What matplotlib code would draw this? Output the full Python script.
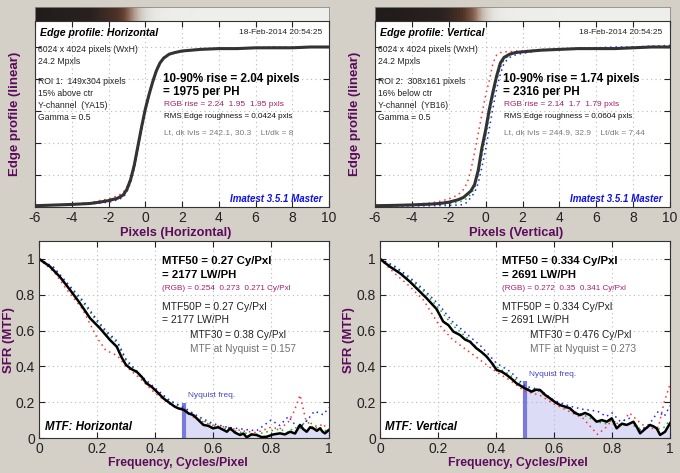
import numpy as np
import matplotlib
matplotlib.use("Agg")
import matplotlib.pyplot as plt
from matplotlib.colors import LinearSegmentedColormap, PowerNorm

plt.rcParams["font.family"] = ["Liberation Sans", "DejaVu Sans"]
plt.rcParams["axes.unicode_minus"] = False

# ---- edge profiles (normalized, 0..1) ----
edge_x = [-6, -5, -4, -3, -2.5, -2, -1.5, -1.2, -1.0, -0.8, -0.6, -0.4, -0.2, 0,
          0.2, 0.4, 0.6, 0.8, 1.0, 1.3, 1.6, 2, 2.5, 3, 4, 5, 6, 7, 8, 9, 10]

edge_h_y = [0.008, 0.012, 0.016, 0.022, 0.03, 0.04, 0.055, 0.075, 0.11, 0.17, 0.26, 0.38,
            0.50, 0.61, 0.70, 0.78, 0.85, 0.90, 0.93, 0.955, 0.965, 0.975, 0.98, 0.985,
            0.99, 0.99, 0.995, 0.995, 0.995, 1.0, 1.0]
edge_h_r = [0.008, 0.012, 0.018, 0.026, 0.04, 0.05, 0.07, 0.09, 0.125, 0.18, 0.27, 0.39,
            0.51, 0.62, 0.71, 0.79, 0.86, 0.905, 0.93, 0.955, 0.965, 0.97, 0.98, 0.985,
            0.99, 0.995, 0.99, 1.0, 0.995, 1.0, 1.0]
edge_h_g = [0.008, 0.012, 0.016, 0.021, 0.028, 0.035, 0.05, 0.07, 0.10, 0.16, 0.25, 0.37,
            0.49, 0.60, 0.70, 0.78, 0.85, 0.90, 0.93, 0.955, 0.965, 0.975, 0.98, 0.985,
            0.99, 0.99, 0.995, 0.995, 1.0, 1.0, 1.0]
edge_h_b = [0.008, 0.011, 0.015, 0.02, 0.025, 0.03, 0.045, 0.06, 0.095, 0.15, 0.24, 0.36,
            0.48, 0.60, 0.69, 0.78, 0.85, 0.90, 0.935, 0.955, 0.965, 0.975, 0.98, 0.99,
            0.99, 0.99, 0.995, 1.0, 0.995, 1.0, 1.0]

edge_v_y = [0.008, 0.01, 0.013, 0.018, 0.022, 0.03, 0.045, 0.06, 0.08, 0.10, 0.14, 0.23,
            0.37, 0.48, 0.61, 0.72, 0.82, 0.90, 0.935, 0.955, 0.965, 0.97, 0.975, 0.98,
            0.985, 0.99, 0.99, 0.99, 0.995, 1.0, 1.0]
edge_v_r = [0.008, 0.012, 0.016, 0.025, 0.035, 0.05, 0.075, 0.11, 0.15, 0.23, 0.34, 0.46,
            0.58, 0.70, 0.79, 0.90, 0.95, 0.965, 0.97, 0.97, 0.975, 0.975, 0.98, 0.985,
            0.985, 0.99, 0.99, 0.995, 0.995, 1.0, 1.0]
edge_v_g = [0.006, 0.008, 0.01, 0.014, 0.017, 0.02, 0.03, 0.04, 0.055, 0.08, 0.12, 0.20,
            0.32, 0.44, 0.57, 0.69, 0.79, 0.87, 0.92, 0.95, 0.96, 0.97, 0.975, 0.98,
            0.985, 0.99, 0.99, 0.995, 0.995, 1.0, 1.0]
edge_v_b = [0.005, 0.006, 0.007, 0.008, 0.009, 0.01, 0.012, 0.015, 0.03, 0.06, 0.09, 0.15,
            0.25, 0.36, 0.49, 0.62, 0.74, 0.83, 0.90, 0.935, 0.95, 0.96, 0.97, 0.98,
            0.985, 0.99, 0.995, 1.0, 1.0, 1.005, 1.01]

# ---- MTF curves ----
mtf_h_f = [0, 0.038, 0.072, 0.107, 0.141, 0.176, 0.21, 0.245, 0.268, 0.285, 0.30, 0.318,
           0.337, 0.355, 0.371, 0.389, 0.406, 0.43, 0.452, 0.468, 0.48, 0.5, 0.515, 0.532,
           0.55, 0.567, 0.584, 0.60, 0.618, 0.636, 0.648, 0.659, 0.676, 0.693, 0.705,
           0.716, 0.733, 0.75, 0.768, 0.785, 0.808, 0.831, 0.848, 0.866, 0.883, 0.90,
           0.911, 0.923, 0.935, 0.946, 0.958, 0.969, 0.978, 0.986, 1.0]
mtf_h = [1.0, 0.957, 0.90, 0.827, 0.753, 0.669, 0.613, 0.547, 0.51, 0.45, 0.408, 0.385,
         0.37, 0.34, 0.305, 0.285, 0.259, 0.22, 0.194, 0.175, 0.166, 0.157, 0.138, 0.128,
         0.10, 0.073, 0.068, 0.054, 0.06, 0.045, 0.035, 0.054, 0.03, 0.017, 0.025,
         0.004, 0.02, 0.017, 0.005, 0.007, 0.02, 0.026, 0.02, 0.035, 0.025, 0.073,
         0.05, 0.035, 0.06, 0.054, 0.04, 0.054, 0.035, 0.026, 0.045]

rgb_h_f = [0, 0.05, 0.1, 0.15, 0.2, 0.23, 0.27, 0.3, 0.35, 0.4, 0.45, 0.5, 0.55, 0.6,
           0.65, 0.7, 0.75, 0.8, 0.83, 0.86, 0.88, 0.9, 0.92, 0.95, 0.98, 1.0]
mtf_h_r = [1.0, 0.93, 0.82, 0.72, 0.56, 0.49, 0.46, 0.40, 0.33, 0.25, 0.19, 0.15, 0.10,
           0.07, 0.06, 0.04, 0.03, 0.06, 0.05, 0.09, 0.15, 0.24, 0.10, 0.05, 0.08, 0.03]
mtf_h_g = [1.0, 0.95, 0.85, 0.76, 0.65, 0.59, 0.53, 0.43, 0.34, 0.27, 0.21, 0.16, 0.11,
           0.07, 0.05, 0.03, 0.02, 0.04, 0.05, 0.03, 0.06, 0.05, 0.10, 0.07, 0.05, 0.03]
mtf_h_b = [1.0, 0.955, 0.86, 0.77, 0.66, 0.60, 0.54, 0.44, 0.35, 0.28, 0.21, 0.17, 0.12,
           0.08, 0.06, 0.05, 0.04, 0.10, 0.07, 0.12, 0.08, 0.06, 0.09, 0.15, 0.13, 0.17]

mtf_v_f = [0, 0.034, 0.069, 0.103, 0.126, 0.161, 0.195, 0.218, 0.236, 0.253, 0.276, 0.293,
           0.31, 0.333, 0.35, 0.368, 0.385, 0.402, 0.42, 0.437, 0.454, 0.471, 0.5, 0.523,
           0.538, 0.552, 0.57, 0.586, 0.604, 0.621, 0.638, 0.655, 0.672, 0.69, 0.707,
           0.724, 0.735, 0.747, 0.765, 0.782, 0.799, 0.816, 0.834, 0.851, 0.874, 0.886,
           0.897, 0.914, 0.931, 0.943, 0.954, 0.966, 0.983, 1.0]
mtf_v = [1.0, 0.957, 0.92, 0.873, 0.836, 0.78, 0.72, 0.65, 0.63, 0.594, 0.575, 0.55,
         0.538, 0.50, 0.48, 0.454, 0.42, 0.38, 0.37, 0.352, 0.33, 0.305, 0.277, 0.259,
         0.27, 0.268, 0.24, 0.222, 0.20, 0.184, 0.175, 0.166, 0.14, 0.128, 0.14,
         0.128, 0.11, 0.091, 0.10, 0.091, 0.11, 0.054, 0.08, 0.073, 0.091, 0.06,
         0.026, 0.05, 0.073, 0.065, 0.054, 0.017, 0.035, 0.082]

rgb_v_f = [0, 0.05, 0.1, 0.15, 0.2, 0.25, 0.3, 0.35, 0.4, 0.45, 0.5, 0.55, 0.6, 0.65,
           0.7, 0.75, 0.78, 0.8, 0.83, 0.86, 0.9, 0.93, 0.96, 0.98, 1.0]
mtf_v_r = [1.0, 0.92, 0.85, 0.77, 0.64, 0.55, 0.49, 0.43, 0.37, 0.32, 0.26, 0.24, 0.19,
           0.15, 0.11, 0.02, 0.06, 0.10, 0.07, 0.14, 0.08, 0.05, 0.06, 0.20, 0.30]
mtf_v_g = [1.0, 0.955, 0.89, 0.82, 0.73, 0.63, 0.56, 0.48, 0.40, 0.35, 0.28, 0.26, 0.20,
           0.16, 0.13, 0.09, 0.08, 0.10, 0.07, 0.08, 0.05, 0.07, 0.05, 0.06, 0.10]
mtf_v_b = [1.0, 0.96, 0.90, 0.83, 0.75, 0.65, 0.58, 0.51, 0.42, 0.37, 0.29, 0.27, 0.21,
           0.18, 0.16, 0.15, 0.12, 0.14, 0.09, 0.11, 0.04, 0.08, 0.15, 0.12, 0.18]

# ---- text ----
edge_titles = ["Edge profile: Horizontal", "Edge profile: Vertical"]
stamp = "18-Feb-2014 20:54:25"
info_lines = [
    ["6024 x 4024 pixels (WxH)", "24.2 Mpxls", "ROI 1:  149x304 pixels", "15% above ctr",
     "Y-channel  (YA15)", "Gamma = 0.5"],
    ["6024 x 4024 pixels (WxH)", "24.2 Mpxls", "ROI 2:  308x161 pixels", "16% below ctr",
     "Y-channel  (YB16)", "Gamma = 0.5"],
]
rise_text = [["10-90% rise = 2.04 pixels", "= 1975 per PH"],
             ["10-90% rise = 1.74 pixels", "= 2316 per PH"]]
rgb_rise = ["RGB rise = 2.24  1.95  1.95 pxls", "RGB rise = 2.14  1.7  1.79 pxls"]
roughness = ["RMS Edge roughness = 0.0424 pxls", "RMS Edge roughness = 0.0604 pxls"]
levels = ["Lt, dk lvls = 242.1, 30.3    Lt/dk = 8", "Lt, dk lvls = 244.9, 32.9    Lt/dk = 7.44"]
edge_xlabels = ["Pixels (Horizontal)", "Pixels (Vertical)"]

mtf50_text = [["MTF50 = 0.27 Cy/Pxl", "= 2177 LW/PH"], ["MTF50 = 0.334 Cy/Pxl", "= 2691 LW/PH"]]
mtf_rgb = ["(RGB) = 0.254  0.273  0.271 Cy/Pxl", "(RGB) = 0.272  0.35  0.341 Cy/Pxl"]
mtf50p_text = [["MTF50P = 0.27 Cy/Pxl", "= 2177 LW/PH"], ["MTF50P = 0.334 Cy/Pxl", "= 2691 LW/PH"]]
mtf30_text = ["MTF30 = 0.38 Cy/Pxl", "MTF30 = 0.476 Cy/Pxl"]
nyq_text = ["MTF at Nyquist = 0.157", "MTF at Nyquist = 0.273"]
mtf_titles = ["MTF: Horizontal", "MTF: Vertical"]

BG = "#d4d0c8"
LABEL = "#5c0a5c"
W, H = 680, 473

fig = plt.figure(figsize=(W / 100, H / 100), dpi=100, facecolor=BG)


def box(x0, y0, x1, y1):
    return [x0 / W, 1 - y1 / H, (x1 - x0) / W, (y1 - y0) / H]


def txt(x, y, s, **kw):
    fig.text(x / W, 1 - y / H, s, va="center", **kw)


def style_axes(ax):
    ax.set_facecolor("white")
    ax.tick_params(direction="in", length=4, top=True, right=True, labelsize=10,
                   colors="#222222", pad=3)
    ax.grid(True, color="#b8b8b8", linestyle=(0, (1, 3)), linewidth=0.8)
    for s in ax.spines.values():
        s.set_color("#333333")
        s.set_linewidth(0.8)


strip_cmap = LinearSegmentedColormap.from_list(
    "edge", [(0, "#141212"), (0.15, "#2a2220"), (0.25, "#553628"), (0.35, "#86604e"),
             (0.5, "#b09888"), (0.7, "#d2cac2"), (0.85, "#e4e2de"), (1, "#eeeeea")])

edges = [(edge_h_y, edge_h_r, edge_h_g, edge_h_b), (edge_v_y, edge_v_r, edge_v_g, edge_v_b)]
mtfs = [(mtf_h_f, mtf_h, rgb_h_f, mtf_h_r, mtf_h_g, mtf_h_b),
        (mtf_v_f, mtf_v, rgb_v_f, mtf_v_r, mtf_v_g, mtf_v_b)]
dots = (0, (1, 2.5))

for i in range(2):
    ox = 340 * i
    left_e = 35 + ox
    right_e = 329 + ox + i

    # gradient strip (image of the edge, gamma encoded)
    sax = fig.add_axes(box(left_e, 7, right_e, 21))
    ey = np.array(edges[i][0])
    sax.pcolormesh(edge_x, [0, 1], np.vstack([ey, ey]), shading="gouraud",
                   cmap=strip_cmap, norm=PowerNorm(0.5, vmin=0, vmax=1))
    sax.set_xlim(-6, 10)
    sax.set_xticks([])
    sax.set_yticks([])
    for s in sax.spines.values():
        s.set_color("#888888")
        s.set_linewidth(0.6)

    # edge profile
    ax = fig.add_axes(box(left_e, 21, right_e, 207))
    style_axes(ax)
    y, r, g, b = edges[i]
    ax.plot(edge_x, r, color="#ff3030", linestyle=dots, lw=1.1)
    ax.plot(edge_x, g, color="#10b010", linestyle=dots, lw=1.1)
    ax.plot(edge_x, b, color="#2020ff", linestyle=dots, lw=1.1)
    ax.plot(edge_x, y, color="#333333", lw=2.2)
    ax.set_xlim(-6, 10)
    ax.set_ylim(0, 1.1625)
    ax.set_xticks(range(-6, 11, 2))
    ax.set_yticks([0.2, 0.4, 0.6, 0.8, 1.0])
    ax.set_yticklabels([])

    txt(40 + ox, 33, edge_titles[i], fontsize=7.6, fontweight="bold", style="italic")
    txt(322 + ox, 33, stamp, fontsize=6, ha="right", color="#222222")
    for line, yy in zip(info_lines[i], [50, 62, 81, 93, 106, 118]):
        txt(38 + ox, yy, line, fontsize=6.2, color="#222222")
    txt(163 + ox, 79, rise_text[i][0], fontsize=8.4, fontweight="bold")
    txt(163 + ox, 92, rise_text[i][1], fontsize=8.4, fontweight="bold")
    txt(164 + ox, 104, rgb_rise[i], fontsize=6, color="#a0206e")
    txt(164 + ox, 117, roughness[i], fontsize=5.8, color="#111111")
    txt(164 + ox, 133, levels[i], fontsize=6, color="#7a7a7a")
    txt(322 + ox, 199, "Imatest 3.5.1 Master", fontsize=7, ha="right", color="#1010e0",
        fontweight="bold", style="italic")

    txt(176 + ox, 233, edge_xlabels[i], fontsize=9.2, fontweight="bold", color=LABEL,
        ha="center")
    fig.text((15 + ox) / W, 1 - 114 / H, "Edge profile (linear)", rotation=90, va="center",
             ha="center", fontsize=9.5, fontweight="bold", color=LABEL)

    # MTF
    left_m = 39 + ox + i
    right_m = 329 + ox + i
    ax2 = fig.add_axes(box(left_m, 241, right_m, 438))
    style_axes(ax2)
    f, m, fr, mr, mg, mb = mtfs[i]
    fa = np.array(f)
    ma = np.array(m)
    nyq = fa >= 0.5
    ax2.fill_between(fa[nyq], 0, ma[nyq], color="#dcdcf6", lw=0)
    ax2.vlines(0.5, 0, ma[nyq][0] + 0.04, color="#7a7ad8", lw=3)
    ax2.plot(fr, mr, color="#ff3030", linestyle=dots, lw=1.1)
    ax2.plot(fr, mg, color="#10b010", linestyle=dots, lw=1.1)
    ax2.plot(fr, mb, color="#2020ff", linestyle=dots, lw=1.1)
    ax2.plot(f, m, color="black", lw=1.8)
    ax2.set_xlim(0, 1)
    ax2.set_ylim(0, 1.1)
    ax2.set_xticks([0, 0.2, 0.4, 0.6, 0.8, 1])
    ax2.set_xticklabels(["0", "0.2", "0.4", "0.6", "0.8", "1"])
    ax2.set_yticks([0, 0.2, 0.4, 0.6, 0.8, 1])
    ax2.set_yticklabels(["0", "0.2", "0.4", "0.6", "0.8", "1"])
    ax2.text(0.515, ma[nyq][0] + 0.08, "Nyquist freq.", fontsize=6, color="#4848c8",
             va="center")

    mx = 162 + ox
    txt(mx, 261, mtf50_text[i][0], fontsize=8.2, fontweight="bold")
    txt(mx, 275, mtf50_text[i][1], fontsize=8.2, fontweight="bold")
    txt(mx, 288, mtf_rgb[i], fontsize=5.9, color="#a0206e")
    txt(mx, 307, mtf50p_text[i][0], fontsize=7.5, color="#222222")
    txt(mx, 320, mtf50p_text[i][1], fontsize=7.5, color="#222222")
    txt(190 + ox, 335, mtf30_text[i], fontsize=7.3, color="#222222")
    txt(190 + ox, 349, nyq_text[i], fontsize=7.3, color="#707070")
    txt(45 + ox, 427, mtf_titles[i], fontsize=8.3, fontweight="bold", style="italic")

    txt(178 + ox, 463, "Frequency, Cycles/Pixel", fontsize=8.8, fontweight="bold",
        color=LABEL, ha="center")
    fig.text((9 + ox) / W, 1 - 340 / H, "SFR (MTF)", rotation=90, va="center",
             ha="center", fontsize=9.5, fontweight="bold", color=LABEL)

fig.savefig("out.png", dpi=100, facecolor=BG)
